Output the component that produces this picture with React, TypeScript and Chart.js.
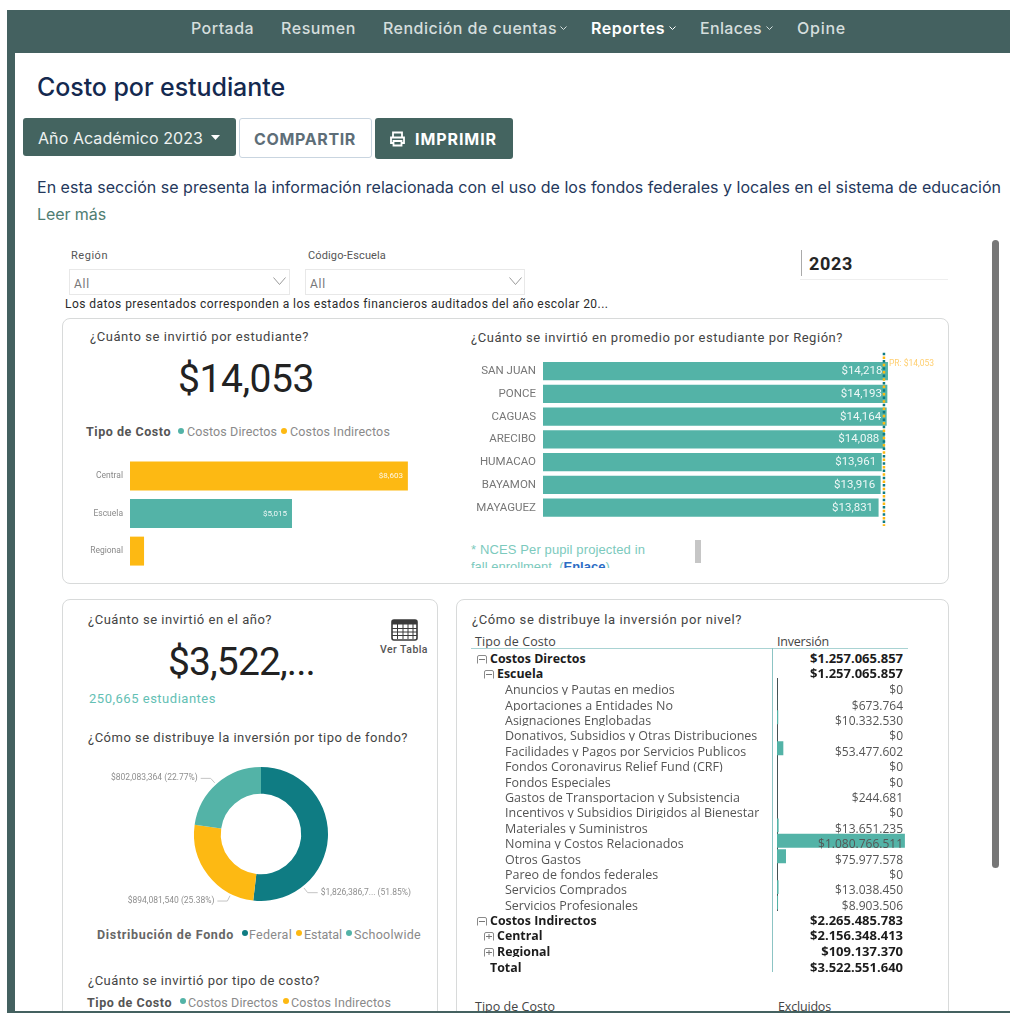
import React, { useEffect, useRef } from "react";
import { Chart, registerables } from "chart.js";

Chart.register(...registerables);

// ---------- data ----------
const costLevels = ["Central", "Escuela", "Regional"];
const costPerStudent = [8603, 5015, 435];
const costLevelTypes = ["Indirectos", "Directos", "Indirectos"];

const regions = ["SAN JUAN", "PONCE", "CAGUAS", "ARECIBO", "HUMACAO", "BAYAMON", "MAYAGUEZ"];
const regionCost = [14218, 14193, 14164, 14088, 13961, 13916, 13831];
const islandAverage = 14053;

const fundNames = ["Federal", "Estatal", "Schoolwide"];
const fundValues = [1826386736, 894081540, 802083364];
const fundLabels = ["$1,826,386,7... (51.85%)", "$894,081,540 (25.38%)", "$802,083,364 (22.77%)"];

const schoolLines = [
  "Anuncios y Pautas en medios",
  "Aportaciones a Entidades No",
  "Asignaciones Englobadas",
  "Donativos, Subsidios y Otras Distribuciones",
  "Facilidades y Pagos por Servicios Publicos",
  "Fondos Coronavirus Relief Fund (CRF)",
  "Fondos Especiales",
  "Gastos de Transportacion y Subsistencia",
  "Incentivos y Subsidios Dirigidos al Bienestar",
  "Materiales y Suministros",
  "Nomina y Costos Relacionados",
  "Otros Gastos",
  "Pareo de fondos federales",
  "Servicios Comprados",
  "Servicios Profesionales",
];
const schoolValues = [0, 673764, 10332530, 0, 53477602, 0, 0, 244681, 0, 13651235, 1080766511, 75977578, 0, 13038450, 8903506];

const TEAL = "#53b3a7";
const DARK_TEAL = "#0f7c83";
const AMBER = "#fdb913";
const NAV = "#446160";
const DIN = "Roboto, sans-serif";
const HEAD = "Inter, sans-serif";
const TABLE = "'Open Sans', sans-serif";

const money = (v: number) => "$" + v.toLocaleString("en-US");
const tableMoney = (v: number) => "$" + v.toLocaleString("de-DE");

// ---------- helpers ----------
type TP = {
  x: number; y: number; w?: number; size: number; color?: string; weight?: number; font?: string;
  right?: boolean; children: React.ReactNode;
};
function T({ x, y, w, size, color = "#444", weight = 400, font = DIN, right, children }: TP) {
  const fit = (el: HTMLDivElement | null) => {
    if (!el || !w) return;
    el.style.letterSpacing = "0px";
    const n = (el.textContent || "").length;
    el.style.letterSpacing = (w - el.getBoundingClientRect().width) / n + "px";
  };
  return (
    <div
      ref={fit}
      style={{
        position: "absolute",
        ...(right ? { right: 1010 - x } : { left: x }),
        top: y - size,
        lineHeight: size * 2 + "px",
        fontSize: size,
        color,
        fontWeight: weight,
        fontFamily: font,
        whiteSpace: "nowrap",
      }}
    >
      {children}
    </div>
  );
}
const Box = ({ s }: { s: React.CSSProperties }) => <div style={{ position: "absolute", ...s }} />;
const Dot = ({ x, y, c }: { x: number; y: number; c: string }) => (
  <Box s={{ left: x - 3, top: y - 3, width: 6, height: 6, borderRadius: 3, background: c }} />
);
const Chev = ({ x, y, w = 12, h = 7, c = "#9a9a9a" }: { x: number; y: number; w?: number; h?: number; c?: string }) => (
  <svg style={{ position: "absolute", left: x, top: y }} width={w} height={h}>
    <polyline points={`0.5,0.5 ${w / 2},${h - 0.5} ${w - 0.5},0.5`} fill="none" stroke={c} strokeWidth="1" />
  </svg>
);
const Sign = ({ x, y, plus }: { x: number; y: number; plus?: boolean }) => (
  <svg style={{ position: "absolute", left: x, top: y - 4 }} width={10} height={9}>
    <path d="M0.5 8.5 V2 Q0.5 .5 2 .5 H8 Q9.5 .5 9.5 2 V8.5" fill="none" stroke="#8a8a8a" />
    <line x1="2" x2="8" y1="4.5" y2="4.5" stroke="#777" />
    {plus && <line x1="5" x2="5" y1="2" y2="7" stroke="#777" />}
  </svg>
);

// table row: the line box is as tall as the clip, which trims the descenders as in the report
const Row = ({ x, y, text, value, bold }: { x: number; y: number; text: string; value: string; bold?: boolean }) => {
  const st: React.CSSProperties = {
    position: "absolute", top: y - 5.9, height: 11, overflow: "hidden", lineHeight: "11px",
    fontFamily: TABLE, fontWeight: bold ? 700 : 400, color: bold ? "#1c1c1c" : "#555", whiteSpace: "nowrap",
  };
  return (
    <>
      <div style={{ ...st, left: x, fontSize: bold ? 12.4 : 12.5 }}>{text}</div>
      <div style={{ ...st, right: 1010 - 903, fontSize: bold ? 13 : 12 }}>{value}</div>
    </>
  );
};

// ---------- plugins ----------
const barValueLabels = (size: number, inset: number, hide: number) => ({
  id: "barValueLabels",
  afterDatasetsDraw(chart: any) {
    const ctx = chart.ctx;
    const meta = chart.getDatasetMeta(0);
    const vals = chart.data.datasets[0].data;
    ctx.save();
    ctx.font = `${size}px ${DIN}`;
    ctx.fillStyle = "rgba(255,255,255,0.9)";
    ctx.textAlign = "right";
    ctx.textBaseline = "middle";
    meta.data.forEach((b: any, i: number) => {
      if (vals[i] > hide) ctx.fillText(money(vals[i]), b.x - inset, b.y);
    });
    ctx.restore();
  },
});

const referenceLine = {
  id: "referenceLine",
  afterDatasetsDraw(chart: any) {
    const { ctx, chartArea, scales } = chart;
    const x = scales.x.getPixelForValue(islandAverage);
    const top = chartArea.top - 7;
    const bottom = chartArea.bottom + 7;
    ctx.save();
    ctx.lineWidth = 2.5;
    ctx.strokeStyle = AMBER;
    ctx.setLineDash([2.5, 4.8]);
    ctx.lineDashOffset = 3.6;
    ctx.beginPath(); ctx.moveTo(x, top); ctx.lineTo(x, bottom); ctx.stroke();
    ctx.strokeStyle = DARK_TEAL;
    ctx.lineDashOffset = 0;
    ctx.beginPath(); ctx.moveTo(x, top); ctx.lineTo(x, bottom); ctx.stroke();
    ctx.setLineDash([]);
    ctx.fillStyle = "#ffcf70";
    ctx.font = `8.5px ${DIN}`;
    ctx.textBaseline = "middle";
    ctx.fillText("PR: " + money(islandAverage), x + 5, chartArea.top + 4.5);
    ctx.restore();
  },
};

// fraction of the circle where each outside label's leader leaves the ring
const leaderAt = [0.393, 0.574, 0.883];
const donutLabels = {
  id: "donutLabels",
  afterDatasetsDraw(chart: any) {
    const ctx = chart.ctx;
    const arc = chart.getDatasetMeta(0).data[0];
    ctx.save();
    ctx.font = `8.5px ${DIN}`;
    ctx.textBaseline = "middle";
    fundLabels.forEach((label, i) => {
      const a = leaderAt[i] * 2 * Math.PI;
      const sx = arc.x + Math.sin(a) * (arc.outerRadius + 2);
      const sy = arc.y - Math.cos(a) * (arc.outerRadius + 2);
      const mx = arc.x + Math.sin(a) * (arc.outerRadius + 8);
      const my = arc.y - Math.cos(a) * (arc.outerRadius + 8);
      const left = Math.sin(a) < 0;
      const ex = mx + (left ? -10 : 10);
      ctx.strokeStyle = "#c4c4c4";
      ctx.lineWidth = 1;
      ctx.beginPath(); ctx.moveTo(sx, sy); ctx.lineTo(mx, my); ctx.lineTo(ex, my); ctx.stroke();
      ctx.fillStyle = "#8f8f8f";
      ctx.textAlign = left ? "right" : "left";
      ctx.fillText(label, ex + (left ? -3 : 3), my);
    });
    ctx.restore();
  },
};

// ---------- app ----------
export default function App() {
  const costRef = useRef<HTMLCanvasElement>(null);
  const regionRef = useRef<HTMLCanvasElement>(null);
  const fundRef = useRef<HTMLCanvasElement>(null);
  const levelRef = useRef<HTMLCanvasElement>(null);

  useEffect(() => {
    document.body.style.margin = "0";
    document.body.style.background = "#fff";
    document.documentElement.style.overflow = "hidden";
    const hiddenX = (max: number) => ({ type: "linear", display: false, min: 0, max });
    const common = { responsive: false, animation: false, indexAxis: "y", plugins: { legend: { display: false }, tooltip: { enabled: false } } };

    const charts = [
      new Chart(costRef.current!, {
        type: "bar",
        data: {
          labels: costLevels,
          datasets: [{
            data: costPerStudent,
            backgroundColor: costLevelTypes.map((t) => (t === "Directos" ? TEAL : AMBER)),
            barPercentage: 1,
            categoryPercentage: 0.77,
          }],
        },
        options: {
          ...common,
          layout: { padding: { top: 6.5, bottom: 6.5 } },
          scales: {
            x: hiddenX(10000),
            y: {
              afterFit: (s: any) => { s.width = 60; },
              grid: { display: false, drawTicks: false },
              border: { display: false },
              ticks: { padding: 7, color: "#8a8a8a", font: { size: 8.5, family: DIN } },
            },
          },
        },
        plugins: [barValueLabels(8, 5, 1000)],
      } as any),
      new Chart(regionRef.current!, {
        type: "bar",
        data: {
          labels: regions,
          datasets: [{ data: regionCost, backgroundColor: TEAL, barPercentage: 1, categoryPercentage: 0.8 }],
        },
        options: {
          ...common,
          layout: { padding: { top: 14.7, bottom: 11.7, right: 13.8 } },
          scales: {
            x: hiddenX(16000),
            y: {
              afterFit: (s: any) => { s.width = 78; },
              grid: { display: false, drawTicks: false },
              border: { display: false },
              ticks: { padding: 7, color: "#777", font: { size: 11.5, family: DIN } },
            },
          },
        },
        plugins: [barValueLabels(11.5, 5.5, 1000), referenceLine],
      } as any),
      new Chart(fundRef.current!, {
        type: "doughnut",
        data: {
          labels: fundNames,
          datasets: [{ data: fundValues, backgroundColor: [DARK_TEAL, AMBER, TEAL], borderWidth: 0 }],
        },
        options: {
          responsive: false,
          animation: false,
          cutout: "60%",
          layout: { padding: { top: 13, bottom: 13 } },
          plugins: { legend: { display: false }, tooltip: { enabled: false } },
        },
        plugins: [donutLabels],
      } as any),
      new Chart(levelRef.current!, {
        type: "bar",
        data: {
          labels: schoolLines,
          datasets: [{ data: schoolValues, backgroundColor: TEAL, barPercentage: 1, categoryPercentage: 0.9 }],
        },
        options: {
          ...common,
          layout: { padding: { top: 8.7, bottom: 9.7 } },
          scales: {
            x: hiddenX(1200000000),
            y: {
              afterFit: (s: any) => { s.width = 7; },
              grid: { display: false, drawTicks: false },
              border: { display: true, color: "#445254", dash: [1, 2], width: 1 },
              ticks: { display: false },
            },
          },
        },
      } as any),
    ];
    return () => charts.forEach((c) => c.destroy());
  }, []);

  const cv = (left: number, top: number): React.CSSProperties => ({ position: "absolute", left, top, display: "block" });
  const card: React.CSSProperties = { border: "1.5px solid #d8dada", borderRadius: 8, boxSizing: "border-box", background: "#fff" };
  const navC = "#d5dedd";

  return (
    <div style={{ position: "relative", width: 1010, height: 1013, overflow: "hidden", background: "#fff", filter: "blur(0.7px)" }}>
      {/* frame */}
      <Box s={{ left: 7, top: 10, width: 8, height: 1003, background: NAV }} />
      <Box s={{ left: 7, top: 10, width: 1003, height: 43, background: NAV }} />

      {/* navigation */}
      <T x={191} y={28} w={63} size={16} color={navC} weight={500} font={HEAD}>Portada</T>
      <T x={281} y={28} w={75} size={16} color={navC} weight={500} font={HEAD}>Resumen</T>
      <T x={383} y={28} w={174} size={16} color={navC} weight={500} font={HEAD}>Rendición de cuentas</T>
      <Chev x={560} y={26} w={7} h={4} c={navC} />
      <T x={591} y={28} w={74} size={16} color="#fff" weight={600} font={HEAD}>Reportes</T>
      <Chev x={669} y={26} w={7} h={4} c="#fff" />
      <T x={700} y={28} w={62} size={16} color={navC} weight={500} font={HEAD}>Enlaces</T>
      <Chev x={766} y={26} w={7} h={4} c={navC} />
      <T x={797} y={28} w={49} size={16} color={navC} weight={500} font={HEAD}>Opine</T>

      <T x={37} y={87} w={248} size={25} color="#14294f" weight={500} font={HEAD}>Costo por estudiante</T>

      {/* buttons */}
      <Box s={{ left: 23, top: 118, width: 213, height: 38, background: "#446460", borderRadius: 3 }} />
      <T x={38} y={138} w={165} size={16} color="#eef2f1" font={HEAD}>Año Académico 2023</T>
      <svg style={{ position: "absolute", left: 211, top: 135 }} width={9} height={5}><path d="M0 0H9L4.5 5Z" fill="#fff" /></svg>
      <Box s={{ left: 239, top: 118, width: 133, height: 40, border: "1.5px solid #c9d5e0", borderRadius: 3, boxSizing: "border-box" }} />
      <T x={254} y={139} w={102} size={16} color="#5e6e78" weight={700} font={HEAD}>COMPARTIR</T>
      <Box s={{ left: 375, top: 118, width: 138, height: 41, background: "#446460", borderRadius: 3 }} />
      <svg style={{ position: "absolute", left: 390, top: 131 }} width={15} height={16}>
        <path d="M3 6V1.5H12V6M3 12H1V6.5H14V12H12M3.5 10H11.5V14.5H3.5Z" fill="none" stroke="#fff" strokeWidth="1.8" />
      </svg>
      <T x={415} y={139} w={82} size={16} color="#fff" weight={700} font={HEAD}>IMPRIMIR</T>

      <T x={37} y={187} w={964} size={16} color="#24385c" font={HEAD}>
        En esta sección se presenta la información relacionada con el uso de los fondos federales y locales en el sistema de educación
      </T>
      <T x={37} y={214} w={69} size={16} color="#4f7d72" font={HEAD}>Leer más</T>

      {/* filters */}
      <T x={71} y={256} w={37} size={11} color="#555">Región</T>
      <T x={308} y={256} w={78} size={11} color="#555">Código-Escuela</T>
      <Box s={{ left: 69, top: 269, width: 221, height: 26, border: "1px solid #e8e8e8", boxSizing: "border-box" }} />
      <T x={74} y={284} w={16} size={12} color="#777">All</T>
      <Chev x={273} y={277} w={13} h={8} />
      <Box s={{ left: 305, top: 269, width: 220, height: 26, border: "1px solid #e8e8e8", boxSizing: "border-box" }} />
      <T x={310} y={284} w={16} size={12} color="#777">All</T>
      <Chev x={509} y={277} w={13} h={8} />
      <T x={65} y={304} w={543} size={12} color="#2a2a2a">Los datos presentados corresponden a los estados financieros auditados del año escolar 20...</T>
      <Box s={{ left: 801, top: 250, width: 1, height: 26, background: "#aaa" }} />
      <T x={809} y={264} w={44} size={18} color="#252525" weight={700}>2023</T>
      <Box s={{ left: 800, top: 279, width: 148, height: 1, background: "#eee" }} />
      <Box s={{ left: 992, top: 240, width: 7, height: 628, borderRadius: 4, background: "#777" }} />

      {/* cards */}
      <Box s={{ ...card, left: 62, top: 318, width: 887, height: 266 }} />
      <Box s={{ ...card, left: 62, top: 599, width: 376, height: 430 }} />
      <Box s={{ ...card, left: 456, top: 599, width: 493, height: 430 }} />
      <Box s={{ left: 7, top: 1011, width: 1003, height: 2, background: NAV }} />

      {/* card 1 */}
      <T x={90} y={337} w={219} size={13} color="#444">¿Cuánto se invirtió por estudiante?</T>
      <T x={178} y={379} w={136} size={39} color="#222">$14,053</T>
      <T x={86} y={431} w={85} size={12.5} color="#555" weight={700}>Tipo de Costo</T>
      <Dot x={181} y={431} c={TEAL} />
      <T x={187} y={431} w={90} size={12.5} color="#8a8a8a">Costos Directos</T>
      <Dot x={284} y={431} c={AMBER} />
      <T x={290} y={431} w={100} size={12.5} color="#8a8a8a">Costos Indirectos</T>
      <canvas ref={costRef} width={383} height={137} style={cv(70, 445)} />

      <T x={471} y={338} w={372} size={13} color="#444">¿Cuánto se invirtió en promedio por estudiante por Región?</T>
      <canvas ref={regionRef} width={480} height={188} style={cv(465, 345)} />
      <T x={471} y={550} w={174} size={13} color="#7ccabd" font="'Liberation Sans', sans-serif">* NCES Per pupil projected in</T>
      <div style={{ position: "absolute", left: 471, top: 560, width: 200, height: 8, overflow: "hidden" }}>
        <div style={{ position: "absolute", left: 0, top: -1, fontSize: 13, lineHeight: "15px", fontFamily: "'Liberation Sans', sans-serif", color: "#7ccabd", whiteSpace: "nowrap" }}>
          fall enrollment. (<b style={{ color: "#2b6cc4" }}>Enlace</b>)
        </div>
      </div>
      <Box s={{ left: 695, top: 540, width: 6, height: 23, background: "#c6c6c6" }} />

      {/* card 2 */}
      <T x={88} y={620} w={184} size={13} color="#444">¿Cuánto se invirtió en el año?</T>
      <T x={168} y={662} w={147} size={39} color="#222">$3,522,...</T>
      <T x={89} y={699} w={127} size={13} color="#63c0b4">250,665 estudiantes</T>
      <svg style={{ position: "absolute", left: 391, top: 619 }} width={27} height={22}>
        <rect x="1" y="1" width="25" height="20" rx="2" fill="none" stroke="#3a3a3a" strokeWidth="1.6" />
        <rect x="1" y="1" width="25" height="4.5" fill="#3a3a3a" />
        {[6.5, 12, 17, 22].map((x) => <line key={x} x1={x} x2={x} y1="5" y2="20" stroke="#3a3a3a" />)}
        {[9.5, 13, 16.5].map((y) => <line key={y} x1="1" x2="26" y1={y} y2={y} stroke="#3a3a3a" />)}
      </svg>
      <T x={380} y={649} w={48} size={10.5} color="#555" weight={500}>Ver Tabla</T>
      <T x={88} y={738} w={320} size={13} color="#444">¿Cómo se distribuye la inversión por tipo de fondo?</T>
      <canvas ref={fundRef} width={350} height={160} style={cv(86, 754)} />
      <T x={97} y={934} w={137} size={12.5} color="#666" weight={700}>Distribución de Fondo</T>
      <Dot x={245} y={933} c={DARK_TEAL} />
      <T x={249} y={934} w={43} size={12.5} color="#8a8a8a">Federal</T>
      <Dot x={299} y={933} c={AMBER} />
      <T x={304} y={934} w={38} size={12.5} color="#8a8a8a">Estatal</T>
      <Dot x={349} y={933} c={TEAL} />
      <T x={354} y={934} w={67} size={12.5} color="#8a8a8a">Schoolwide</T>
      <T x={88} y={981} w={232} size={13} color="#444">¿Cuánto se invirtió por tipo de costo?</T>
      <T x={87} y={1002} w={85} size={12.5} color="#555" weight={700}>Tipo de Costo</T>
      <Dot x={183} y={1001} c={TEAL} />
      <T x={188} y={1002} w={90} size={12.5} color="#8a8a8a">Costos Directos</T>
      <Dot x={286} y={1001} c={AMBER} />
      <T x={291} y={1002} w={100} size={12.5} color="#8a8a8a">Costos Indirectos</T>

      {/* card 3 */}
      <T x={472} y={620} w={270} size={13} color="#444">¿Cómo se distribuye la inversión por nivel?</T>
      <T x={475} y={641} w={81} size={12.5} color="#444" font={TABLE}>Tipo de Costo</T>
      <T x={777} y={641} w={52} size={12.5} color="#444" font={TABLE}>Inversión</T>
      <Box s={{ left: 471, top: 648, width: 437, height: 1, background: "#a9d3d3" }} />
      <Box s={{ left: 772, top: 648, width: 1, height: 324, background: "#8cc4c4" }} />
      <canvas ref={levelRef} width={149} height={250} style={cv(770, 670)} />
      <Sign x={477} y={659} />
      <Row x={490} y={659} text="Costos Directos" value={tableMoney(1257065857)} bold />
      <Sign x={484} y={674} />
      <Row x={497} y={674} text="Escuela" value={tableMoney(1257065857)} bold />
      {schoolLines.map((s, i) => (
        <Row key={s} x={505} y={690 + i * 15.4} text={s} value={tableMoney(schoolValues[i])} />
      ))}
      <Sign x={477} y={921} />
      <Row x={490} y={921} text="Costos Indirectos" value={tableMoney(2265485783)} bold />
      <Sign x={484} y={936} plus />
      <Row x={497} y={936} text="Central" value={tableMoney(2156348413)} bold />
      <Sign x={484} y={952} plus />
      <Row x={497} y={952} text="Regional" value={tableMoney(109137370)} bold />
      <Row x={490} y={968} text="Total" value={tableMoney(3522551640)} bold />
      <T x={475} y={1006} w={80} size={12.5} color="#444" font={TABLE}>Tipo de Costo</T>
      <T x={778} y={1006} w={53} size={12.5} color="#444" font={TABLE}>Excluidos</T>
    </div>
  );
}
